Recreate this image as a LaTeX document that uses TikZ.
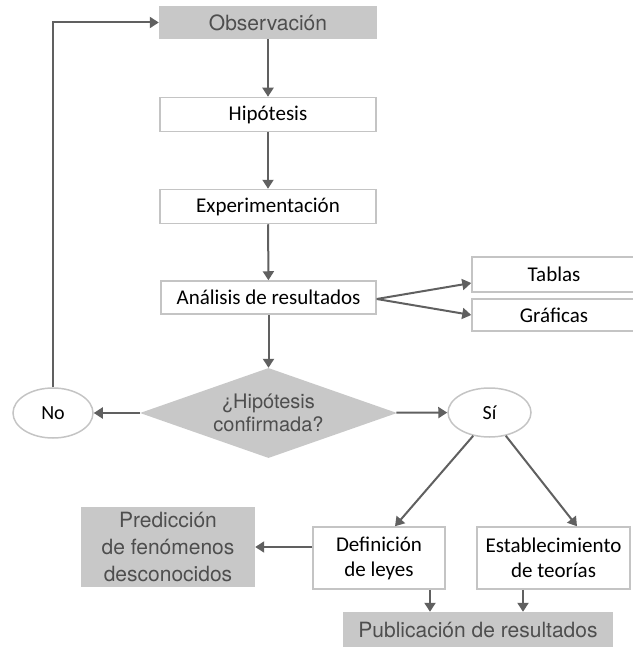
\documentclass[tikz,border=0pt]{standalone}
\usepackage{fontspec}
\setmainfont{Carlito}
\newfontfamily\grayfont{TeX Gyre Heros}
\usetikzlibrary{shapes.geometric,arrows.meta}

\definecolor{boxgray}{RGB}{200,200,200}
\definecolor{edgegray}{RGB}{196,196,196}
\definecolor{arrowgray}{RGB}{96,96,96}
\definecolor{textgray}{RGB}{78,78,78}

\begin{document}
\begin{tikzpicture}[x=1pt,y=-1pt,
  whitebox/.style={draw=edgegray, line width=1.5pt, fill=white, inner sep=0pt,
    align=center, font=\fontsize{21}{25}\selectfont},
  graybox/.style={fill=boxgray, inner sep=0pt, align=center, text=textgray,
    font=\grayfont\fontsize{21}{27}\selectfont},
  oval/.style={ellipse, draw=edgegray, line width=1.5pt, inner sep=0pt,
    font=\fontsize{20}{24}\selectfont},
  arr/.style={draw=arrowgray, line width=2pt, -{Triangle[length=9pt,width=11pt]}}]
  % Frame
  \useasboundingbox (0,0) rectangle (632,647);
  % Main column
  \node[graybox, minimum width=218pt, minimum height=33pt] (obs) at (268,22.5) {Observación};
  \node[whitebox, minimum width=216pt, minimum height=34pt] (hip) at (268,114.5) {Hipótesis};
  \node[whitebox, minimum width=216pt, minimum height=34pt] (exp) at (268,206.5) {Experimentación};
  \node[whitebox, minimum width=215pt, minimum height=33pt] (ana) at (268.5,297.5) {Análisis de resultados};
  % Outputs of the analysis
  \node[whitebox, minimum width=164pt, minimum height=35pt] (tab) at (554,274.5) {Tablas};
  \node[whitebox, minimum width=164pt, minimum height=32pt] (gra) at (554,315) {Gráficas};
  % Decision
  \node[diamond, fill=boxgray, minimum width=257pt, minimum height=90pt, inner sep=0pt,
    shape aspect=2.8, align=center, text=textgray,
    font=\grayfont\fontsize{20}{23}\selectfont] (conf) at (268.5,413) {¿Hipótesis\\confirmada?};
  \node[oval, minimum width=80pt, minimum height=50pt] (no) at (53,413) {No};
  \node[oval, minimum width=83pt, minimum height=49pt] (si) at (489.5,412.5) {Sí};
  % Lower part
  \node[whitebox, minimum width=132pt, minimum height=62pt] (def) at (379,558) {Definición\\de leyes};
  \node[whitebox, minimum width=153pt, minimum height=62pt] (est) at (553.5,558) {Establecimiento\\de teorías};
  \node[graybox, minimum width=174pt, minimum height=80pt] (pre) at (168,547) {Predicción\\de fenómenos\\desconocidos};
  \node[graybox, minimum width=270pt, minimum height=35pt] (pub) at (478,629.5) {Publicación de resultados};
  % Arrows
  \draw[arr] (obs) -- (hip);
  \draw[arr] (hip) -- (exp);
  \draw[arr] (exp) -- (ana);
  \draw[arr] (ana) -- (conf);
  \draw[arr] ([yshift=-1.5pt]ana.east) -- ([yshift=-8.5pt]tab.west);
  \draw[arr] ([yshift=-1.5pt]ana.east) -- (gra.west);
  \draw[arr] (conf) -- (no);
  \draw[arr] (conf) -- (si);
  \draw[arr] (no.north) |- (obs.west);
  \draw[arr] (si.235) -- ([xshift=16pt]def.north);
  \draw[arr] (si.305) -- ([xshift=23.5pt]est.north);
  \draw[arr] (def.west |- pre.east) -- (pre.east);
  \draw[arr] ([xshift=51pt]def.south) -- ([xshift=51pt]def.south |- pub.north);
  \draw[arr] ([xshift=-30.5pt]est.south) -- ([xshift=-30.5pt]est.south |- pub.north);
\end{tikzpicture}
\end{document}
